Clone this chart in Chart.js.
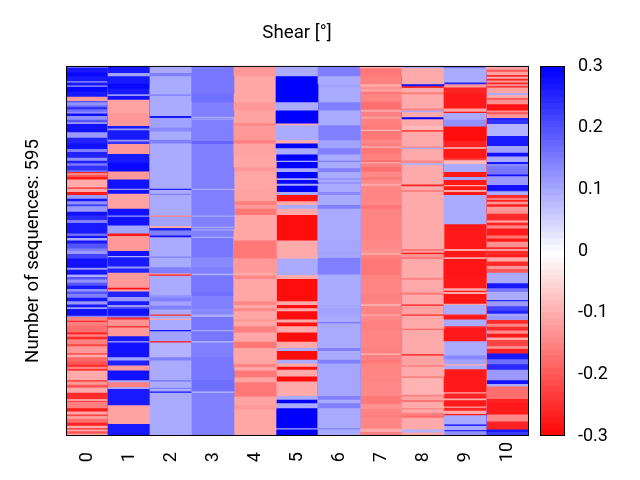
<!DOCTYPE html>
<html>
<head>
<meta charset="UTF-8">
<title>Shear</title>
<style>
    body { margin: 0; background: #fff; }
    canvas { position: absolute; left: 0; top: 0; }
</style>
</head>
<body>
<canvas id="heat" width="640" height="480"></canvas>
<canvas id="cbar" width="640" height="480"></canvas>
<script src="https://cdn.jsdelivr.net/npm/chart.js"></script>
<script>
const categories = ['0', '1', '2', '3', '4', '5', '6', '7', '8', '9', '10'];
const totalSequences = 595;
const cbarTicks = [-0.3, -0.2, -0.1, 0, 0.1, 0.2, 0.3];

// each column: shear value of a run of rows, and how many rows the run covers
const shear0 = [.1,.27,.29,.27,.12,.27,.12,.29,.27,-.12,.2,.13,.18,.25,.17,.13,.28,.13,.2,.12,.28,.12,.26,.28,.15,.26,.13,.26,.16,.24,.17,-.25,-.13,-.2,-.27,-.1,-.25,-.1,
    -.1,-.27,.12,.27,.13,.22,.12,.28,.25,.15,.27,.17,.28,.1,.27,.2,.15,.12,.22,.28,.12,.27,.3,.1,.2,.13,.2,.27,.13,.2,.15,.27,.12,.27,.05,.28,
    .14,-.15,-.25,-.15,-.17,-.27,-.15,-.25,-.15,-.22,-.12,-.2,-.1,-.18,-.2,-.25,-.15,-.28,-.1,-.25,-.12,-.2,-.1,-.25,-.12,-.22,-.15,-.27,-.1,-.25,-.12,-.17,-.26,-.1,-.25,-.1,-.2,-.1];
const rows0 = [2,8,6,8,2,5,2,8,8,7,2,5,3,3,4,3,4,6,4,3,13,9,9,9,5,9,5,4,4,7,3,2,3,3,4,13,2,2,
    3,5,6,4,5,3,9,6,7,5,17,4,3,4,5,8,4,5,7,15,3,6,2,4,4,5,5,5,4,4,6,6,5,5,2,11,
    2,6,2,6,11,3,4,4,8,3,11,3,4,7,5,3,4,2,16,2,5,5,8,10,3,2,10,5,5,2,5,6,5,4,2,3,4,4];
const shear1 = [.27,.11,.27,.29,.27,.12,.28,-.11,-.12,.27,.12,.27,.12,.24,-.12,.27,.29,-.12,.28,.12,
    .28,-.11,.28,.12,.28,.11,-.27,-.12,.28,.1,.27,.12,.26,-.12,-.28,-.1,.26,.12,.27,.12,.2,.28,
    .15,-.25,-.13,-.25,-.12,.27,.1,.28,.11,.26,-.12,.28,.1,-.15,.1,.27,-.11,.27];
const rows1 = [11,5,12,8,9,3,6,22,20,4,3,15,3,4,16,14,14,13,15,2,
    6,24,11,2,14,13,4,24,8,2,15,3,7,24,3,3,9,7,6,3,3,11,
    3,3,11,2,14,8,2,24,5,8,8,16,3,8,3,26,30,21];
const shear2 = [.1,.15,.1,.14,.1,.27,.11,.14,.1,.15,.1,.26,
    .1,.15,.1,-.15,.11,-.1,.26,.15,.28,.1,.15,.1,.15,-.1,-.27,.1,.13,.15,.11,.15,.1,-.25,
    .1,-.1,.1,.28,.11,-.27,.09,.15,.1,.17,.1,.15,.1,.28,.1];
const rows2 = [11,5,29,3,32,3,16,6,13,6,73,2,
    6,2,33,2,15,3,4,8,3,31,2,15,10,2,2,31,4,6,7,6,8,2,
    5,2,16,2,16,2,24,5,32,2,10,2,4,2,71];
const shear3 = [.16,.17,.15,.1,.13,.1,.15,.18,.15,.1,
    .15,.1,.15,.1,.15,.1,.15,.1,.16,.14,.15,.1,.16,.17,.15,.14,.1,
    .1,.16,.1,.16,.08,.15,.16,.17,.08,.15];
const rows3 = [45,13,23,2,2,1,34,5,72,2,
    41,2,16,2,2,2,10,2,31,16,10,3,27,6,21,9,2,
    2,21,2,16,2,24,37,18,2,71];
const shear4 = [-.12,-.105,-.12,-.11,-.15,-.12,-.15,-.11,-.105,-.12,-.105,
    -.11,-.15,-.12,-.16,-.105,-.16,-.12,-.1,-.14,-.105,-.14,-.105,-.14,-.105,
    -.105,-.13,-.105,-.15,-.105,-.16,-.105,-.11,-.15,-.1,-.16,-.11,-.16,-.11,-.12,-.105];
const rows4 = [16,42,13,21,3,24,5,18,20,7,30,
    18,6,6,10,41,29,23,4,6,36,6,5,5,7,
    6,3,8,10,15,10,21,5,5,5,11,8,23,14,7,44];
const shear5 = [.1,.3,.1,.3,-.1,.1,-.1,.3,.1,.3,.1,.3,.1,.3,.1,.29,.1,.3,
    .3,.1,-.28,-.1,.1,-.1,-.285,-.1,.1,-.1,-.285,-.1,-.28,-.1,-.285,
    -.285,-.1,-.28,-.1,-.285,-.1,.1,-.285,.1,-.1,-.28,-.1,-.285,-.1,.1,.3,.1,.3,.1,.3];
const rows5 = [16,42,13,21,3,24,5,8,10,10,2,10,6,10,3,6,3,7,
    3,5,10,6,6,10,41,29,27,6,36,6,5,5,7,
    6,5,6,10,15,10,5,14,6,5,5,11,8,23,6,6,8,32,2,11];
const shear6 = [.15,.1,.11,.1,.15,.1,.15,.11,.15,.1,.15,.1,.15,.1,.13,.1,.13,.1,
    .1,.14,.1,.15,.1,.105,.12,.105,.15,.1,.105,.11,
    .1,.16,.1,.15,.1,.15,.105,.15,.1,.15,.1,.15,.1];
const rows6 = [16,13,5,24,13,24,24,13,10,10,2,10,6,10,3,3,3,10,
    3,5,16,6,50,22,1,6,27,49,5,12,
    10,2,40,5,14,6,52,6,6,8,32,2,11];
const shear7 = [-.1,-.16,-.15,-.1,-.13,-.11,-.16,-.145,-.17,-.1,-.15,-.11,-.15,-.155,-.09,-.16,-.14,-.15,-.09,-.16,-.15,-.17,-.1,-.15,-.17,-.14,-.16,-.14,-.1,-.14,
    -.145,-.14,-.16,-.145,-.14,-.13,-.09,-.15,-.16,-.145,-.15,-.145,-.07,-.145,-.1,
    -.14,-.15,-.145,-.15,-.08,-.15,-.16,-.145,-.14,-.16,-.13,-.145,-.15,-.145,-.1,-.15];
const rows7 = [3,13,13,4,4,4,3,13,13,3,8,3,10,8,2,14,5,6,2,10,10,3,2,6,7,10,3,7,3,7,
    18,6,7,50,15,6,2,6,27,29,13,5,2,14,2,
    8,16,27,10,2,8,6,29,23,13,8,5,8,19,5,7];
const shear8 = [.1,-.1,.28,-.25,-.1,-.16,-.1,-.15,.1,-.1,.3,-.1,-.08,-.27,-.1,-.14,.1,-.1,-.14,.09,-.1,-.26,-.1,
    -.15,-.1,-.16,-.11,-.27,-.13,-.16,-.1,-.17,-.1,-.12,-.17,-.1,-.27,-.11,-.25,
    -.1,-.18,-.1,-.28,-.11,-.16,-.1,-.17,-.09,-.15,-.11,-.17,-.1,-.15,-.1,-.15,-.17,-.1,.09,-.11];
const rows8 = [3,26,3,3,7,3,23,3,3,8,3,11,7,2,24,2,2,18,5,3,31,3,6,
    3,92,3,3,2,5,3,31,2,19,3,2,16,2,14,2,
    21,2,39,2,16,2,16,2,27,3,6,3,10,2,5,5,3,19,5,7];
const shear9 = [.16,.1,.26,-.12,-.26,-.27,-.11,-.27,.1,.13,-.285,-.26,-.12,-.27,-.23,-.08,.1,-.27,.11,-.27,-.1,-.27,
    -.1,-.27,.1,-.27,-.1,-.27,-.1,-.275,-.27,-.1,-.27,-.1,-.275,-.1,.1,-.25,
    -.27,.1,-.25,-.27,.1,.14,.11,-.1,.1,-.27,-.1,-.26,-.1,-.27,-.1,-.26,-.1,-.27,.1,.3,.1,.25,.13];
const rows9 = [3,23,3,5,11,23,5,2,11,11,23,10,3,15,3,6,13,8,5,8,2,6,
    3,5,47,40,3,10,3,31,16,4,2,3,16,2,15,2,
    6,11,3,21,23,6,8,2,6,37,2,8,3,10,2,5,5,2,15,2,7,2,10];
const shear10 = [-.1,-.13,-.2,-.11,-.25,-.1,-.26,-.12,-.25,-.13,-.27,-.11,.1,-.1,-.2,-.13,-.28,-.13,-.2,-.12,.26,.24,.09,.27,.11,.28,.1,.27,.14,.16,.28,.12,.28,
    .26,.1,-.25,-.15,-.26,-.12,-.26,-.12,-.13,-.25,-.1,-.25,-.14,-.27,-.16,-.27,-.13,-.25,-.12,-.25,-.27,-.1,-.25,-.12,-.2,.1,.27,.16,.1,.25,.12,.22,.26,.1,
    .12,-.25,-.14,-.25,-.14,-.27,-.1,-.22,-.12,-.26,.27,.17,.25,.12,.28,.1,-.17,-.26,-.27,-.14,-.26,.27,.23];
const rows10 = [3,3,3,5,3,3,3,3,3,3,2,9,3,5,3,7,10,3,3,6,3,7,19,16,11,6,9,3,4,13,3,14,8,
    2,6,5,3,3,4,4,6,5,11,3,5,5,11,5,5,9,3,3,6,4,7,7,5,6,17,8,6,13,2,8,7,5,3,
    7,6,5,6,5,6,4,10,4,8,9,8,9,17,6,4,20,6,19,11,13,4,7];

const cbarLevels = [-.3,-.29,-.28,-.27,-.26,-.25,-.24,-.23,-.22,-.21,-.2,-.19,-.18,-.17,-.16,-.15,-.14,-.13,-.12,-.11,-.1,
    -.09,-.08,-.07,-.06,-.05,-.04,-.03,-.02,-.01,0,.01,.02,.03,.04,.05,.06,.07,.08,.09,.1,
    .11,.12,.13,.14,.15,.16,.17,.18,.19,.2,.21,.22,.23,.24,.25,.26,.27,.28,.29,.3];

const columnValues = [shear0, shear1, shear2, shear3, shear4, shear5, shear6, shear7, shear8, shear9, shear10];
const columnRows = [rows0, rows1, rows2, rows3, rows4, rows5, rows6, rows7, rows8, rows9, rows10];

const FONT = 'Roboto, sans-serif';

// blue-white-red map from -0.3 to 0.3
function shearColor(v) {
    const c = Math.round(255 * (1 - Math.min(Math.abs(v), 0.3) / 0.3));
    return v >= 0 ? `rgb(${c},${c},255)` : `rgb(255,${c},${c})`;
}

// first runs are painted last, every bar reaches up to row 0 so no seams show between runs
const maxRuns = Math.max(...columnRows.map(r => r.length));
const datasets = [];
for (let k = 0; k < maxRuns; k++) {
    const data = [];
    const colors = [];
    columnRows.forEach((rows, col) => {
        if (k >= rows.length) {
            data.push(null);
            colors.push('#fff');
            return;
        }
        const end = k === rows.length - 1 ? totalSequences : rows.slice(0, k + 1).reduce((a, b) => a + b, 0);
        data.push(Math.min(end, totalSequences));
        colors.push(shearColor(columnValues[col][k]));
    });
    datasets.push({ data: data, backgroundColor: colors, borderWidth: 0, barPercentage: 1, categoryPercentage: 1, grouped: false });
}

const framePlugin = {
    id: 'frame',
    afterDraw(chart) {
        const a = chart.chartArea;
        const ctx = chart.ctx;
        ctx.save();
        ctx.strokeStyle = '#000';
        ctx.lineWidth = 1;
        ctx.strokeRect(a.left + 0.5, a.top + 0.5, a.right - a.left, a.bottom - a.top - 1);
        ctx.restore();
    }
};

new Chart(document.getElementById('heat'), {
    type: 'bar',
    data: { labels: categories, datasets: datasets },
    plugins: [framePlugin],
    options: {
        responsive: false,
        animation: false,
        layout: { padding: { right: 112 } },
        plugins: {
            legend: { display: false },
            tooltip: { enabled: false },
            title: {
                display: true,
                text: 'Shear [°]',
                fullSize: false,
                color: '#000',
                font: { family: FONT, size: 18.7, weight: 'normal' },
                padding: { top: 22, bottom: 21.5 }
            }
        },
        scales: {
            x: {
                grid: { display: false },
                border: { display: false },
                ticks: {
                    color: '#000',
                    font: { family: FONT, size: 18 },
                    minRotation: 90,
                    maxRotation: 90,
                    autoSkip: false,
                    padding: -2,
                    // rotated labels hang from the axis, pad short ones so all start at the same line
                    callback: (v, i) => categories[i].padEnd(2, '\u2007')
                },
                afterFit(scale) { scale.height = 44; }
            },
            y: {
                reverse: true,
                min: 0,
                max: totalSequences,
                grid: { display: false },
                border: { display: false },
                ticks: { display: false },
                title: {
                    display: true,
                    text: 'Number of sequences: 595',
                    color: '#000',
                    font: { family: FONT, size: 18.7 },
                    padding: { top: 22, bottom: 0 }
                },
                afterFit(scale) { scale.width = 66; }
            }
        }
    }
});

// colour bar: lowest level stays on top of the higher ones
const cbarDatasets = cbarLevels.map(level => ({
    data: [[-0.3, level]],
    backgroundColor: shearColor(level),
    borderWidth: 0,
    barPercentage: 1,
    categoryPercentage: 1,
    grouped: false
}));

new Chart(document.getElementById('cbar'), {
    type: 'bar',
    data: { labels: [''], datasets: cbarDatasets },
    plugins: [framePlugin],
    options: {
        responsive: false,
        animation: false,
        layout: { padding: { left: 540, top: 66, bottom: 44 } },
        plugins: { legend: { display: false }, tooltip: { enabled: false } },
        scales: {
            x: { display: false },
            y: {
                position: 'right',
                min: -0.3,
                max: 0.3,
                afterBuildTicks(scale) { scale.ticks = cbarTicks.map(v => ({ value: v })); },
                grid: { display: false, drawTicks: false },
                border: { display: false },
                ticks: {
                    color: '#000',
                    font: { family: FONT, size: 18 },
                    padding: 14,
                    callback: v => String(v)
                },
                afterFit(scale) { scale.width = 76; }
            }
        }
    }
});
</script>
</body>
</html>
